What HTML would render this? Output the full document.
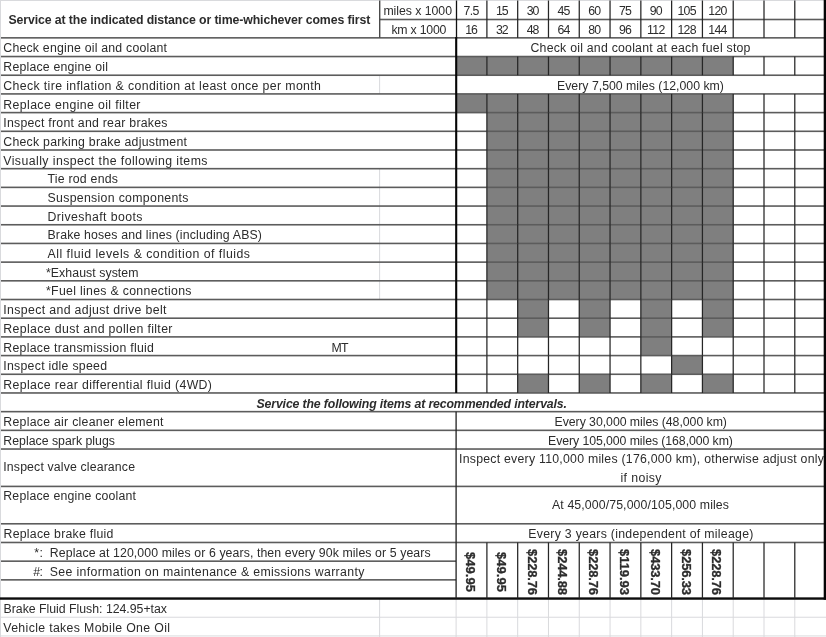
<!DOCTYPE html>
<html><head><meta charset="utf-8"><title>Maintenance schedule</title>
<style>
html,body{margin:0;padding:0;background:#fff;}
#s{position:relative;width:826px;height:637px;overflow:hidden;background:#fff;font-family:"Liberation Sans",sans-serif;color:#2c2c2c;}
#t{position:absolute;left:0;top:0;width:826px;height:637px;will-change:transform;}
#s span{position:absolute;white-space:pre;line-height:16px;}
</style></head><body><div id="s">
<svg width="826" height="637" viewBox="0 0 826 637" style="position:absolute;left:0;top:0">
<rect x="0.00" y="0.00" width="826.00" height="1.00" fill="#d9dadd"/>
<rect x="0.00" y="0.00" width="1.00" height="637.00" fill="#d9dadd"/>
<rect x="0.00" y="616.74" width="826.00" height="1.00" fill="#d9dadd"/>
<rect x="0.00" y="635.43" width="826.00" height="1.00" fill="#d9dadd"/>
<rect x="379.10" y="598.55" width="1.00" height="38.45" fill="#d9dadd"/>
<rect x="455.60" y="598.55" width="1.00" height="38.45" fill="#d9dadd"/>
<rect x="486.39" y="598.55" width="1.00" height="38.45" fill="#d9dadd"/>
<rect x="517.18" y="598.55" width="1.00" height="38.45" fill="#d9dadd"/>
<rect x="547.97" y="598.55" width="1.00" height="38.45" fill="#d9dadd"/>
<rect x="578.76" y="598.55" width="1.00" height="38.45" fill="#d9dadd"/>
<rect x="609.55" y="598.55" width="1.00" height="38.45" fill="#d9dadd"/>
<rect x="640.34" y="598.55" width="1.00" height="38.45" fill="#d9dadd"/>
<rect x="671.13" y="598.55" width="1.00" height="38.45" fill="#d9dadd"/>
<rect x="701.92" y="598.55" width="1.00" height="38.45" fill="#d9dadd"/>
<rect x="732.71" y="598.55" width="1.00" height="38.45" fill="#d9dadd"/>
<rect x="763.50" y="598.55" width="1.00" height="38.45" fill="#d9dadd"/>
<rect x="794.29" y="598.55" width="1.00" height="38.45" fill="#d9dadd"/>
<rect x="379.10" y="75.23" width="1.00" height="18.69" fill="#d9dadd"/>
<rect x="379.10" y="168.68" width="1.00" height="130.83" fill="#d9dadd"/>
<rect x="456.10" y="56.54" width="30.79" height="18.69" fill="#7f7f7f"/>
<rect x="486.89" y="56.54" width="30.79" height="18.69" fill="#7f7f7f"/>
<rect x="517.68" y="56.54" width="30.79" height="18.69" fill="#7f7f7f"/>
<rect x="548.47" y="56.54" width="30.79" height="18.69" fill="#7f7f7f"/>
<rect x="579.26" y="56.54" width="30.79" height="18.69" fill="#7f7f7f"/>
<rect x="610.05" y="56.54" width="30.79" height="18.69" fill="#7f7f7f"/>
<rect x="640.84" y="56.54" width="30.79" height="18.69" fill="#7f7f7f"/>
<rect x="671.63" y="56.54" width="30.79" height="18.69" fill="#7f7f7f"/>
<rect x="702.42" y="56.54" width="30.79" height="18.69" fill="#7f7f7f"/>
<rect x="456.10" y="93.92" width="30.79" height="18.69" fill="#7f7f7f"/>
<rect x="486.89" y="93.92" width="30.79" height="18.69" fill="#7f7f7f"/>
<rect x="517.68" y="93.92" width="30.79" height="18.69" fill="#7f7f7f"/>
<rect x="548.47" y="93.92" width="30.79" height="18.69" fill="#7f7f7f"/>
<rect x="579.26" y="93.92" width="30.79" height="18.69" fill="#7f7f7f"/>
<rect x="610.05" y="93.92" width="30.79" height="18.69" fill="#7f7f7f"/>
<rect x="640.84" y="93.92" width="30.79" height="18.69" fill="#7f7f7f"/>
<rect x="671.63" y="93.92" width="30.79" height="18.69" fill="#7f7f7f"/>
<rect x="702.42" y="93.92" width="30.79" height="18.69" fill="#7f7f7f"/>
<rect x="486.89" y="112.61" width="30.79" height="18.69" fill="#7f7f7f"/>
<rect x="517.68" y="112.61" width="30.79" height="18.69" fill="#7f7f7f"/>
<rect x="548.47" y="112.61" width="30.79" height="18.69" fill="#7f7f7f"/>
<rect x="579.26" y="112.61" width="30.79" height="18.69" fill="#7f7f7f"/>
<rect x="610.05" y="112.61" width="30.79" height="18.69" fill="#7f7f7f"/>
<rect x="640.84" y="112.61" width="30.79" height="18.69" fill="#7f7f7f"/>
<rect x="671.63" y="112.61" width="30.79" height="18.69" fill="#7f7f7f"/>
<rect x="702.42" y="112.61" width="30.79" height="18.69" fill="#7f7f7f"/>
<rect x="486.89" y="131.30" width="30.79" height="18.69" fill="#7f7f7f"/>
<rect x="517.68" y="131.30" width="30.79" height="18.69" fill="#7f7f7f"/>
<rect x="548.47" y="131.30" width="30.79" height="18.69" fill="#7f7f7f"/>
<rect x="579.26" y="131.30" width="30.79" height="18.69" fill="#7f7f7f"/>
<rect x="610.05" y="131.30" width="30.79" height="18.69" fill="#7f7f7f"/>
<rect x="640.84" y="131.30" width="30.79" height="18.69" fill="#7f7f7f"/>
<rect x="671.63" y="131.30" width="30.79" height="18.69" fill="#7f7f7f"/>
<rect x="702.42" y="131.30" width="30.79" height="18.69" fill="#7f7f7f"/>
<rect x="486.89" y="149.99" width="30.79" height="18.69" fill="#7f7f7f"/>
<rect x="517.68" y="149.99" width="30.79" height="18.69" fill="#7f7f7f"/>
<rect x="548.47" y="149.99" width="30.79" height="18.69" fill="#7f7f7f"/>
<rect x="579.26" y="149.99" width="30.79" height="18.69" fill="#7f7f7f"/>
<rect x="610.05" y="149.99" width="30.79" height="18.69" fill="#7f7f7f"/>
<rect x="640.84" y="149.99" width="30.79" height="18.69" fill="#7f7f7f"/>
<rect x="671.63" y="149.99" width="30.79" height="18.69" fill="#7f7f7f"/>
<rect x="702.42" y="149.99" width="30.79" height="18.69" fill="#7f7f7f"/>
<rect x="486.89" y="168.68" width="30.79" height="18.69" fill="#7f7f7f"/>
<rect x="517.68" y="168.68" width="30.79" height="18.69" fill="#7f7f7f"/>
<rect x="548.47" y="168.68" width="30.79" height="18.69" fill="#7f7f7f"/>
<rect x="579.26" y="168.68" width="30.79" height="18.69" fill="#7f7f7f"/>
<rect x="610.05" y="168.68" width="30.79" height="18.69" fill="#7f7f7f"/>
<rect x="640.84" y="168.68" width="30.79" height="18.69" fill="#7f7f7f"/>
<rect x="671.63" y="168.68" width="30.79" height="18.69" fill="#7f7f7f"/>
<rect x="702.42" y="168.68" width="30.79" height="18.69" fill="#7f7f7f"/>
<rect x="486.89" y="187.37" width="30.79" height="18.69" fill="#7f7f7f"/>
<rect x="517.68" y="187.37" width="30.79" height="18.69" fill="#7f7f7f"/>
<rect x="548.47" y="187.37" width="30.79" height="18.69" fill="#7f7f7f"/>
<rect x="579.26" y="187.37" width="30.79" height="18.69" fill="#7f7f7f"/>
<rect x="610.05" y="187.37" width="30.79" height="18.69" fill="#7f7f7f"/>
<rect x="640.84" y="187.37" width="30.79" height="18.69" fill="#7f7f7f"/>
<rect x="671.63" y="187.37" width="30.79" height="18.69" fill="#7f7f7f"/>
<rect x="702.42" y="187.37" width="30.79" height="18.69" fill="#7f7f7f"/>
<rect x="486.89" y="206.06" width="30.79" height="18.69" fill="#7f7f7f"/>
<rect x="517.68" y="206.06" width="30.79" height="18.69" fill="#7f7f7f"/>
<rect x="548.47" y="206.06" width="30.79" height="18.69" fill="#7f7f7f"/>
<rect x="579.26" y="206.06" width="30.79" height="18.69" fill="#7f7f7f"/>
<rect x="610.05" y="206.06" width="30.79" height="18.69" fill="#7f7f7f"/>
<rect x="640.84" y="206.06" width="30.79" height="18.69" fill="#7f7f7f"/>
<rect x="671.63" y="206.06" width="30.79" height="18.69" fill="#7f7f7f"/>
<rect x="702.42" y="206.06" width="30.79" height="18.69" fill="#7f7f7f"/>
<rect x="486.89" y="224.75" width="30.79" height="18.69" fill="#7f7f7f"/>
<rect x="517.68" y="224.75" width="30.79" height="18.69" fill="#7f7f7f"/>
<rect x="548.47" y="224.75" width="30.79" height="18.69" fill="#7f7f7f"/>
<rect x="579.26" y="224.75" width="30.79" height="18.69" fill="#7f7f7f"/>
<rect x="610.05" y="224.75" width="30.79" height="18.69" fill="#7f7f7f"/>
<rect x="640.84" y="224.75" width="30.79" height="18.69" fill="#7f7f7f"/>
<rect x="671.63" y="224.75" width="30.79" height="18.69" fill="#7f7f7f"/>
<rect x="702.42" y="224.75" width="30.79" height="18.69" fill="#7f7f7f"/>
<rect x="486.89" y="243.44" width="30.79" height="18.69" fill="#7f7f7f"/>
<rect x="517.68" y="243.44" width="30.79" height="18.69" fill="#7f7f7f"/>
<rect x="548.47" y="243.44" width="30.79" height="18.69" fill="#7f7f7f"/>
<rect x="579.26" y="243.44" width="30.79" height="18.69" fill="#7f7f7f"/>
<rect x="610.05" y="243.44" width="30.79" height="18.69" fill="#7f7f7f"/>
<rect x="640.84" y="243.44" width="30.79" height="18.69" fill="#7f7f7f"/>
<rect x="671.63" y="243.44" width="30.79" height="18.69" fill="#7f7f7f"/>
<rect x="702.42" y="243.44" width="30.79" height="18.69" fill="#7f7f7f"/>
<rect x="486.89" y="262.13" width="30.79" height="18.69" fill="#7f7f7f"/>
<rect x="517.68" y="262.13" width="30.79" height="18.69" fill="#7f7f7f"/>
<rect x="548.47" y="262.13" width="30.79" height="18.69" fill="#7f7f7f"/>
<rect x="579.26" y="262.13" width="30.79" height="18.69" fill="#7f7f7f"/>
<rect x="610.05" y="262.13" width="30.79" height="18.69" fill="#7f7f7f"/>
<rect x="640.84" y="262.13" width="30.79" height="18.69" fill="#7f7f7f"/>
<rect x="671.63" y="262.13" width="30.79" height="18.69" fill="#7f7f7f"/>
<rect x="702.42" y="262.13" width="30.79" height="18.69" fill="#7f7f7f"/>
<rect x="486.89" y="280.82" width="30.79" height="18.69" fill="#7f7f7f"/>
<rect x="517.68" y="280.82" width="30.79" height="18.69" fill="#7f7f7f"/>
<rect x="548.47" y="280.82" width="30.79" height="18.69" fill="#7f7f7f"/>
<rect x="579.26" y="280.82" width="30.79" height="18.69" fill="#7f7f7f"/>
<rect x="610.05" y="280.82" width="30.79" height="18.69" fill="#7f7f7f"/>
<rect x="640.84" y="280.82" width="30.79" height="18.69" fill="#7f7f7f"/>
<rect x="671.63" y="280.82" width="30.79" height="18.69" fill="#7f7f7f"/>
<rect x="702.42" y="280.82" width="30.79" height="18.69" fill="#7f7f7f"/>
<rect x="517.68" y="299.51" width="30.79" height="18.69" fill="#7f7f7f"/>
<rect x="579.26" y="299.51" width="30.79" height="18.69" fill="#7f7f7f"/>
<rect x="640.84" y="299.51" width="30.79" height="18.69" fill="#7f7f7f"/>
<rect x="702.42" y="299.51" width="30.79" height="18.69" fill="#7f7f7f"/>
<rect x="517.68" y="318.20" width="30.79" height="18.69" fill="#7f7f7f"/>
<rect x="579.26" y="318.20" width="30.79" height="18.69" fill="#7f7f7f"/>
<rect x="640.84" y="318.20" width="30.79" height="18.69" fill="#7f7f7f"/>
<rect x="702.42" y="318.20" width="30.79" height="18.69" fill="#7f7f7f"/>
<rect x="640.84" y="336.89" width="30.79" height="18.69" fill="#7f7f7f"/>
<rect x="671.63" y="355.58" width="30.79" height="18.69" fill="#7f7f7f"/>
<rect x="517.68" y="374.27" width="30.79" height="18.69" fill="#7f7f7f"/>
<rect x="579.26" y="374.27" width="30.79" height="18.69" fill="#7f7f7f"/>
<rect x="640.84" y="374.27" width="30.79" height="18.69" fill="#7f7f7f"/>
<rect x="702.42" y="374.27" width="30.79" height="18.69" fill="#7f7f7f"/>
<rect x="380.00" y="18.70" width="445.00" height="1.60" fill="#5c5c5c"/>
<rect x="1.00" y="37.05" width="824.00" height="1.60" fill="#5c5c5c"/>
<rect x="1.00" y="55.74" width="824.00" height="1.60" fill="#5c5c5c"/>
<rect x="1.00" y="74.43" width="824.00" height="1.60" fill="#5c5c5c"/>
<rect x="1.00" y="93.12" width="824.00" height="1.60" fill="#5c5c5c"/>
<rect x="1.00" y="111.81" width="824.00" height="1.60" fill="#5c5c5c"/>
<rect x="1.00" y="130.50" width="824.00" height="1.60" fill="#5c5c5c"/>
<rect x="1.00" y="149.19" width="824.00" height="1.60" fill="#5c5c5c"/>
<rect x="1.00" y="167.88" width="824.00" height="1.60" fill="#5c5c5c"/>
<rect x="1.00" y="186.57" width="824.00" height="1.60" fill="#5c5c5c"/>
<rect x="1.00" y="205.26" width="824.00" height="1.60" fill="#5c5c5c"/>
<rect x="1.00" y="223.95" width="824.00" height="1.60" fill="#5c5c5c"/>
<rect x="1.00" y="242.64" width="824.00" height="1.60" fill="#5c5c5c"/>
<rect x="1.00" y="261.33" width="824.00" height="1.60" fill="#5c5c5c"/>
<rect x="1.00" y="280.02" width="824.00" height="1.60" fill="#5c5c5c"/>
<rect x="1.00" y="298.71" width="824.00" height="1.60" fill="#5c5c5c"/>
<rect x="1.00" y="317.40" width="824.00" height="1.60" fill="#5c5c5c"/>
<rect x="1.00" y="336.09" width="824.00" height="1.60" fill="#5c5c5c"/>
<rect x="1.00" y="354.78" width="824.00" height="1.60" fill="#5c5c5c"/>
<rect x="1.00" y="373.47" width="824.00" height="1.60" fill="#5c5c5c"/>
<rect x="1.00" y="392.16" width="824.00" height="1.60" fill="#5c5c5c"/>
<rect x="1.00" y="410.85" width="824.00" height="1.60" fill="#5c5c5c"/>
<rect x="1.00" y="429.54" width="824.00" height="1.60" fill="#5c5c5c"/>
<rect x="1.00" y="448.23" width="824.00" height="1.60" fill="#5c5c5c"/>
<rect x="1.00" y="485.61" width="824.00" height="1.60" fill="#5c5c5c"/>
<rect x="1.00" y="522.99" width="824.00" height="1.60" fill="#5c5c5c"/>
<rect x="1.00" y="541.68" width="455.00" height="1.60" fill="#5c5c5c"/>
<rect x="456.00" y="541.68" width="369.00" height="1.60" fill="#5c5c5c"/>
<rect x="1.00" y="560.37" width="455.00" height="1.60" fill="#5c5c5c"/>
<rect x="1.00" y="579.06" width="455.00" height="1.60" fill="#5c5c5c"/>
<rect x="0.00" y="597.35" width="826.00" height="2.40" fill="#0c0c0c"/>
<rect x="379.00" y="0.50" width="1.40" height="37.35" fill="#4a4a4a"/>
<rect x="486.27" y="0.50" width="1.25" height="37.35" fill="#262626"/>
<rect x="517.06" y="0.50" width="1.25" height="37.35" fill="#262626"/>
<rect x="547.85" y="0.50" width="1.25" height="37.35" fill="#262626"/>
<rect x="578.63" y="0.50" width="1.25" height="37.35" fill="#262626"/>
<rect x="609.42" y="0.50" width="1.25" height="37.35" fill="#262626"/>
<rect x="640.22" y="0.50" width="1.25" height="37.35" fill="#262626"/>
<rect x="671.00" y="0.50" width="1.25" height="37.35" fill="#262626"/>
<rect x="701.80" y="0.50" width="1.25" height="37.35" fill="#262626"/>
<rect x="732.59" y="0.50" width="1.25" height="37.35" fill="#262626"/>
<rect x="763.38" y="0.50" width="1.25" height="37.35" fill="#262626"/>
<rect x="794.16" y="0.50" width="1.25" height="37.35" fill="#262626"/>
<rect x="486.27" y="56.54" width="1.25" height="18.69" fill="#262626"/>
<rect x="517.06" y="56.54" width="1.25" height="18.69" fill="#262626"/>
<rect x="547.85" y="56.54" width="1.25" height="18.69" fill="#262626"/>
<rect x="578.63" y="56.54" width="1.25" height="18.69" fill="#262626"/>
<rect x="609.42" y="56.54" width="1.25" height="18.69" fill="#262626"/>
<rect x="640.22" y="56.54" width="1.25" height="18.69" fill="#262626"/>
<rect x="671.00" y="56.54" width="1.25" height="18.69" fill="#262626"/>
<rect x="701.80" y="56.54" width="1.25" height="18.69" fill="#262626"/>
<rect x="732.59" y="56.54" width="1.25" height="18.69" fill="#262626"/>
<rect x="763.38" y="56.54" width="1.25" height="18.69" fill="#262626"/>
<rect x="794.16" y="56.54" width="1.25" height="18.69" fill="#262626"/>
<rect x="486.27" y="93.92" width="1.25" height="18.69" fill="#262626"/>
<rect x="517.06" y="93.92" width="1.25" height="18.69" fill="#262626"/>
<rect x="547.85" y="93.92" width="1.25" height="18.69" fill="#262626"/>
<rect x="578.63" y="93.92" width="1.25" height="18.69" fill="#262626"/>
<rect x="609.42" y="93.92" width="1.25" height="18.69" fill="#262626"/>
<rect x="640.22" y="93.92" width="1.25" height="18.69" fill="#262626"/>
<rect x="671.00" y="93.92" width="1.25" height="18.69" fill="#262626"/>
<rect x="701.80" y="93.92" width="1.25" height="18.69" fill="#262626"/>
<rect x="732.59" y="93.92" width="1.25" height="18.69" fill="#262626"/>
<rect x="763.38" y="93.92" width="1.25" height="18.69" fill="#262626"/>
<rect x="794.16" y="93.92" width="1.25" height="18.69" fill="#262626"/>
<rect x="486.27" y="112.61" width="1.25" height="18.69" fill="#262626"/>
<rect x="517.06" y="112.61" width="1.25" height="18.69" fill="#262626"/>
<rect x="547.85" y="112.61" width="1.25" height="18.69" fill="#262626"/>
<rect x="578.63" y="112.61" width="1.25" height="18.69" fill="#262626"/>
<rect x="609.42" y="112.61" width="1.25" height="18.69" fill="#262626"/>
<rect x="640.22" y="112.61" width="1.25" height="18.69" fill="#262626"/>
<rect x="671.00" y="112.61" width="1.25" height="18.69" fill="#262626"/>
<rect x="701.80" y="112.61" width="1.25" height="18.69" fill="#262626"/>
<rect x="732.59" y="112.61" width="1.25" height="18.69" fill="#262626"/>
<rect x="763.38" y="112.61" width="1.25" height="18.69" fill="#262626"/>
<rect x="794.16" y="112.61" width="1.25" height="18.69" fill="#262626"/>
<rect x="486.27" y="131.30" width="1.25" height="18.69" fill="#262626"/>
<rect x="517.06" y="131.30" width="1.25" height="18.69" fill="#262626"/>
<rect x="547.85" y="131.30" width="1.25" height="18.69" fill="#262626"/>
<rect x="578.63" y="131.30" width="1.25" height="18.69" fill="#262626"/>
<rect x="609.42" y="131.30" width="1.25" height="18.69" fill="#262626"/>
<rect x="640.22" y="131.30" width="1.25" height="18.69" fill="#262626"/>
<rect x="671.00" y="131.30" width="1.25" height="18.69" fill="#262626"/>
<rect x="701.80" y="131.30" width="1.25" height="18.69" fill="#262626"/>
<rect x="732.59" y="131.30" width="1.25" height="18.69" fill="#262626"/>
<rect x="763.38" y="131.30" width="1.25" height="18.69" fill="#262626"/>
<rect x="794.16" y="131.30" width="1.25" height="18.69" fill="#262626"/>
<rect x="486.27" y="149.99" width="1.25" height="18.69" fill="#262626"/>
<rect x="517.06" y="149.99" width="1.25" height="18.69" fill="#262626"/>
<rect x="547.85" y="149.99" width="1.25" height="18.69" fill="#262626"/>
<rect x="578.63" y="149.99" width="1.25" height="18.69" fill="#262626"/>
<rect x="609.42" y="149.99" width="1.25" height="18.69" fill="#262626"/>
<rect x="640.22" y="149.99" width="1.25" height="18.69" fill="#262626"/>
<rect x="671.00" y="149.99" width="1.25" height="18.69" fill="#262626"/>
<rect x="701.80" y="149.99" width="1.25" height="18.69" fill="#262626"/>
<rect x="732.59" y="149.99" width="1.25" height="18.69" fill="#262626"/>
<rect x="763.38" y="149.99" width="1.25" height="18.69" fill="#262626"/>
<rect x="794.16" y="149.99" width="1.25" height="18.69" fill="#262626"/>
<rect x="486.27" y="168.68" width="1.25" height="18.69" fill="#262626"/>
<rect x="517.06" y="168.68" width="1.25" height="18.69" fill="#262626"/>
<rect x="547.85" y="168.68" width="1.25" height="18.69" fill="#262626"/>
<rect x="578.63" y="168.68" width="1.25" height="18.69" fill="#262626"/>
<rect x="609.42" y="168.68" width="1.25" height="18.69" fill="#262626"/>
<rect x="640.22" y="168.68" width="1.25" height="18.69" fill="#262626"/>
<rect x="671.00" y="168.68" width="1.25" height="18.69" fill="#262626"/>
<rect x="701.80" y="168.68" width="1.25" height="18.69" fill="#262626"/>
<rect x="732.59" y="168.68" width="1.25" height="18.69" fill="#262626"/>
<rect x="763.38" y="168.68" width="1.25" height="18.69" fill="#262626"/>
<rect x="794.16" y="168.68" width="1.25" height="18.69" fill="#262626"/>
<rect x="486.27" y="187.37" width="1.25" height="18.69" fill="#262626"/>
<rect x="517.06" y="187.37" width="1.25" height="18.69" fill="#262626"/>
<rect x="547.85" y="187.37" width="1.25" height="18.69" fill="#262626"/>
<rect x="578.63" y="187.37" width="1.25" height="18.69" fill="#262626"/>
<rect x="609.42" y="187.37" width="1.25" height="18.69" fill="#262626"/>
<rect x="640.22" y="187.37" width="1.25" height="18.69" fill="#262626"/>
<rect x="671.00" y="187.37" width="1.25" height="18.69" fill="#262626"/>
<rect x="701.80" y="187.37" width="1.25" height="18.69" fill="#262626"/>
<rect x="732.59" y="187.37" width="1.25" height="18.69" fill="#262626"/>
<rect x="763.38" y="187.37" width="1.25" height="18.69" fill="#262626"/>
<rect x="794.16" y="187.37" width="1.25" height="18.69" fill="#262626"/>
<rect x="486.27" y="206.06" width="1.25" height="18.69" fill="#262626"/>
<rect x="517.06" y="206.06" width="1.25" height="18.69" fill="#262626"/>
<rect x="547.85" y="206.06" width="1.25" height="18.69" fill="#262626"/>
<rect x="578.63" y="206.06" width="1.25" height="18.69" fill="#262626"/>
<rect x="609.42" y="206.06" width="1.25" height="18.69" fill="#262626"/>
<rect x="640.22" y="206.06" width="1.25" height="18.69" fill="#262626"/>
<rect x="671.00" y="206.06" width="1.25" height="18.69" fill="#262626"/>
<rect x="701.80" y="206.06" width="1.25" height="18.69" fill="#262626"/>
<rect x="732.59" y="206.06" width="1.25" height="18.69" fill="#262626"/>
<rect x="763.38" y="206.06" width="1.25" height="18.69" fill="#262626"/>
<rect x="794.16" y="206.06" width="1.25" height="18.69" fill="#262626"/>
<rect x="486.27" y="224.75" width="1.25" height="18.69" fill="#262626"/>
<rect x="517.06" y="224.75" width="1.25" height="18.69" fill="#262626"/>
<rect x="547.85" y="224.75" width="1.25" height="18.69" fill="#262626"/>
<rect x="578.63" y="224.75" width="1.25" height="18.69" fill="#262626"/>
<rect x="609.42" y="224.75" width="1.25" height="18.69" fill="#262626"/>
<rect x="640.22" y="224.75" width="1.25" height="18.69" fill="#262626"/>
<rect x="671.00" y="224.75" width="1.25" height="18.69" fill="#262626"/>
<rect x="701.80" y="224.75" width="1.25" height="18.69" fill="#262626"/>
<rect x="732.59" y="224.75" width="1.25" height="18.69" fill="#262626"/>
<rect x="763.38" y="224.75" width="1.25" height="18.69" fill="#262626"/>
<rect x="794.16" y="224.75" width="1.25" height="18.69" fill="#262626"/>
<rect x="486.27" y="243.44" width="1.25" height="18.69" fill="#262626"/>
<rect x="517.06" y="243.44" width="1.25" height="18.69" fill="#262626"/>
<rect x="547.85" y="243.44" width="1.25" height="18.69" fill="#262626"/>
<rect x="578.63" y="243.44" width="1.25" height="18.69" fill="#262626"/>
<rect x="609.42" y="243.44" width="1.25" height="18.69" fill="#262626"/>
<rect x="640.22" y="243.44" width="1.25" height="18.69" fill="#262626"/>
<rect x="671.00" y="243.44" width="1.25" height="18.69" fill="#262626"/>
<rect x="701.80" y="243.44" width="1.25" height="18.69" fill="#262626"/>
<rect x="732.59" y="243.44" width="1.25" height="18.69" fill="#262626"/>
<rect x="763.38" y="243.44" width="1.25" height="18.69" fill="#262626"/>
<rect x="794.16" y="243.44" width="1.25" height="18.69" fill="#262626"/>
<rect x="486.27" y="262.13" width="1.25" height="18.69" fill="#262626"/>
<rect x="517.06" y="262.13" width="1.25" height="18.69" fill="#262626"/>
<rect x="547.85" y="262.13" width="1.25" height="18.69" fill="#262626"/>
<rect x="578.63" y="262.13" width="1.25" height="18.69" fill="#262626"/>
<rect x="609.42" y="262.13" width="1.25" height="18.69" fill="#262626"/>
<rect x="640.22" y="262.13" width="1.25" height="18.69" fill="#262626"/>
<rect x="671.00" y="262.13" width="1.25" height="18.69" fill="#262626"/>
<rect x="701.80" y="262.13" width="1.25" height="18.69" fill="#262626"/>
<rect x="732.59" y="262.13" width="1.25" height="18.69" fill="#262626"/>
<rect x="763.38" y="262.13" width="1.25" height="18.69" fill="#262626"/>
<rect x="794.16" y="262.13" width="1.25" height="18.69" fill="#262626"/>
<rect x="486.27" y="280.82" width="1.25" height="18.69" fill="#262626"/>
<rect x="517.06" y="280.82" width="1.25" height="18.69" fill="#262626"/>
<rect x="547.85" y="280.82" width="1.25" height="18.69" fill="#262626"/>
<rect x="578.63" y="280.82" width="1.25" height="18.69" fill="#262626"/>
<rect x="609.42" y="280.82" width="1.25" height="18.69" fill="#262626"/>
<rect x="640.22" y="280.82" width="1.25" height="18.69" fill="#262626"/>
<rect x="671.00" y="280.82" width="1.25" height="18.69" fill="#262626"/>
<rect x="701.80" y="280.82" width="1.25" height="18.69" fill="#262626"/>
<rect x="732.59" y="280.82" width="1.25" height="18.69" fill="#262626"/>
<rect x="763.38" y="280.82" width="1.25" height="18.69" fill="#262626"/>
<rect x="794.16" y="280.82" width="1.25" height="18.69" fill="#262626"/>
<rect x="486.27" y="299.51" width="1.25" height="18.69" fill="#262626"/>
<rect x="517.06" y="299.51" width="1.25" height="18.69" fill="#262626"/>
<rect x="547.85" y="299.51" width="1.25" height="18.69" fill="#262626"/>
<rect x="578.63" y="299.51" width="1.25" height="18.69" fill="#262626"/>
<rect x="609.42" y="299.51" width="1.25" height="18.69" fill="#262626"/>
<rect x="640.22" y="299.51" width="1.25" height="18.69" fill="#262626"/>
<rect x="671.00" y="299.51" width="1.25" height="18.69" fill="#262626"/>
<rect x="701.80" y="299.51" width="1.25" height="18.69" fill="#262626"/>
<rect x="732.59" y="299.51" width="1.25" height="18.69" fill="#262626"/>
<rect x="763.38" y="299.51" width="1.25" height="18.69" fill="#262626"/>
<rect x="794.16" y="299.51" width="1.25" height="18.69" fill="#262626"/>
<rect x="486.27" y="318.20" width="1.25" height="18.69" fill="#262626"/>
<rect x="517.06" y="318.20" width="1.25" height="18.69" fill="#262626"/>
<rect x="547.85" y="318.20" width="1.25" height="18.69" fill="#262626"/>
<rect x="578.63" y="318.20" width="1.25" height="18.69" fill="#262626"/>
<rect x="609.42" y="318.20" width="1.25" height="18.69" fill="#262626"/>
<rect x="640.22" y="318.20" width="1.25" height="18.69" fill="#262626"/>
<rect x="671.00" y="318.20" width="1.25" height="18.69" fill="#262626"/>
<rect x="701.80" y="318.20" width="1.25" height="18.69" fill="#262626"/>
<rect x="732.59" y="318.20" width="1.25" height="18.69" fill="#262626"/>
<rect x="763.38" y="318.20" width="1.25" height="18.69" fill="#262626"/>
<rect x="794.16" y="318.20" width="1.25" height="18.69" fill="#262626"/>
<rect x="486.27" y="336.89" width="1.25" height="18.69" fill="#262626"/>
<rect x="517.06" y="336.89" width="1.25" height="18.69" fill="#262626"/>
<rect x="547.85" y="336.89" width="1.25" height="18.69" fill="#262626"/>
<rect x="578.63" y="336.89" width="1.25" height="18.69" fill="#262626"/>
<rect x="609.42" y="336.89" width="1.25" height="18.69" fill="#262626"/>
<rect x="640.22" y="336.89" width="1.25" height="18.69" fill="#262626"/>
<rect x="671.00" y="336.89" width="1.25" height="18.69" fill="#262626"/>
<rect x="701.80" y="336.89" width="1.25" height="18.69" fill="#262626"/>
<rect x="732.59" y="336.89" width="1.25" height="18.69" fill="#262626"/>
<rect x="763.38" y="336.89" width="1.25" height="18.69" fill="#262626"/>
<rect x="794.16" y="336.89" width="1.25" height="18.69" fill="#262626"/>
<rect x="486.27" y="355.58" width="1.25" height="18.69" fill="#262626"/>
<rect x="517.06" y="355.58" width="1.25" height="18.69" fill="#262626"/>
<rect x="547.85" y="355.58" width="1.25" height="18.69" fill="#262626"/>
<rect x="578.63" y="355.58" width="1.25" height="18.69" fill="#262626"/>
<rect x="609.42" y="355.58" width="1.25" height="18.69" fill="#262626"/>
<rect x="640.22" y="355.58" width="1.25" height="18.69" fill="#262626"/>
<rect x="671.00" y="355.58" width="1.25" height="18.69" fill="#262626"/>
<rect x="701.80" y="355.58" width="1.25" height="18.69" fill="#262626"/>
<rect x="732.59" y="355.58" width="1.25" height="18.69" fill="#262626"/>
<rect x="763.38" y="355.58" width="1.25" height="18.69" fill="#262626"/>
<rect x="794.16" y="355.58" width="1.25" height="18.69" fill="#262626"/>
<rect x="486.27" y="374.27" width="1.25" height="18.69" fill="#262626"/>
<rect x="517.06" y="374.27" width="1.25" height="18.69" fill="#262626"/>
<rect x="547.85" y="374.27" width="1.25" height="18.69" fill="#262626"/>
<rect x="578.63" y="374.27" width="1.25" height="18.69" fill="#262626"/>
<rect x="609.42" y="374.27" width="1.25" height="18.69" fill="#262626"/>
<rect x="640.22" y="374.27" width="1.25" height="18.69" fill="#262626"/>
<rect x="671.00" y="374.27" width="1.25" height="18.69" fill="#262626"/>
<rect x="701.80" y="374.27" width="1.25" height="18.69" fill="#262626"/>
<rect x="732.59" y="374.27" width="1.25" height="18.69" fill="#262626"/>
<rect x="763.38" y="374.27" width="1.25" height="18.69" fill="#262626"/>
<rect x="794.16" y="374.27" width="1.25" height="18.69" fill="#262626"/>
<rect x="486.27" y="542.48" width="1.25" height="56.07" fill="#262626"/>
<rect x="517.06" y="542.48" width="1.25" height="56.07" fill="#262626"/>
<rect x="547.85" y="542.48" width="1.25" height="56.07" fill="#262626"/>
<rect x="578.63" y="542.48" width="1.25" height="56.07" fill="#262626"/>
<rect x="609.42" y="542.48" width="1.25" height="56.07" fill="#262626"/>
<rect x="640.22" y="542.48" width="1.25" height="56.07" fill="#262626"/>
<rect x="671.00" y="542.48" width="1.25" height="56.07" fill="#262626"/>
<rect x="701.80" y="542.48" width="1.25" height="56.07" fill="#262626"/>
<rect x="732.59" y="542.48" width="1.25" height="56.07" fill="#262626"/>
<rect x="763.38" y="542.48" width="1.25" height="56.07" fill="#262626"/>
<rect x="794.16" y="542.48" width="1.25" height="56.07" fill="#262626"/>
<rect x="455.15" y="37.05" width="2.10" height="355.91" fill="#050505"/>
<rect x="455.85" y="0.50" width="1.30" height="37.35" fill="#111"/>
<rect x="455.45" y="411.65" width="1.30" height="186.90" fill="#222"/>
<rect x="823.70" y="0.00" width="2.30" height="599.75" fill="#050505"/>
</svg>
<div id="t">
<span style="left:8.50px;top:11.53px;font-size:12.3px;letter-spacing:-0.106px;font-weight:bold;">Service at the indicated distance or time-whichever comes first</span>
<span style="left:3.30px;top:40.47px;font-size:12.3px;letter-spacing:0.213px;">Check engine oil and coolant</span>
<span style="left:3.30px;top:59.16px;font-size:12.3px;letter-spacing:0.206px;">Replace engine oil</span>
<span style="left:3.30px;top:77.85px;font-size:12.3px;letter-spacing:0.369px;">Check tire inflation &amp; condition at least once per month</span>
<span style="left:3.30px;top:96.54px;font-size:12.3px;letter-spacing:0.389px;">Replace engine oil filter</span>
<span style="left:3.30px;top:115.23px;font-size:12.3px;letter-spacing:0.248px;">Inspect front and rear brakes</span>
<span style="left:3.30px;top:133.92px;font-size:12.3px;letter-spacing:0.252px;">Check parking brake adjustment</span>
<span style="left:3.30px;top:152.61px;font-size:12.3px;letter-spacing:0.430px;">Visually inspect the following items</span>
<span style="left:47.40px;top:171.30px;font-size:12.3px;letter-spacing:0.244px;">Tie rod ends</span>
<span style="left:47.50px;top:189.99px;font-size:12.3px;letter-spacing:0.315px;">Suspension components</span>
<span style="left:47.50px;top:208.68px;font-size:12.3px;letter-spacing:0.408px;">Driveshaft boots</span>
<span style="left:47.50px;top:227.37px;font-size:12.3px;letter-spacing:0.166px;">Brake hoses and lines (including ABS)</span>
<span style="left:47.50px;top:246.06px;font-size:12.3px;letter-spacing:0.484px;">All fluid levels &amp; condition of fluids</span>
<span style="left:46.00px;top:264.75px;font-size:12.3px;letter-spacing:0.064px;">*Exhaust system</span>
<span style="left:46.00px;top:283.44px;font-size:12.3px;letter-spacing:0.308px;">*Fuel lines &amp; connections</span>
<span style="left:3.30px;top:302.13px;font-size:12.3px;letter-spacing:0.359px;">Inspect and adjust drive belt</span>
<span style="left:3.30px;top:320.82px;font-size:12.3px;letter-spacing:0.364px;">Replace dust and pollen filter</span>
<span style="left:3.30px;top:339.51px;font-size:12.3px;letter-spacing:0.285px;">Replace transmission fluid</span>
<span style="left:331.50px;top:339.51px;font-size:12.3px;letter-spacing:-0.761px;">MT</span>
<span style="left:3.30px;top:358.20px;font-size:12.3px;letter-spacing:0.268px;">Inspect idle speed</span>
<span style="left:3.30px;top:376.89px;font-size:12.3px;letter-spacing:0.373px;">Replace rear differential fluid (4WD)</span>
<span style="left:3.30px;top:414.27px;font-size:12.3px;letter-spacing:0.271px;">Replace air cleaner element</span>
<span style="left:3.30px;top:432.96px;font-size:12.3px;letter-spacing:0.014px;">Replace spark plugs</span>
<span style="left:3.50px;top:526.41px;font-size:12.3px;letter-spacing:0.256px;">Replace brake fluid</span>
<span style="left:34.30px;top:545.10px;font-size:12.3px;letter-spacing:0.496px;">*:</span>
<span style="left:49.80px;top:545.10px;font-size:12.3px;letter-spacing:0.093px;">Replace at 120,000 miles or 6 years, then every 90k miles or 5 years</span>
<span style="left:33.30px;top:563.79px;font-size:12.3px;letter-spacing:-0.558px;">#:</span>
<span style="left:49.80px;top:563.79px;font-size:12.3px;letter-spacing:0.344px;">See information on maintenance &amp; emissions warranty</span>
<span style="left:3.60px;top:601.17px;font-size:12.3px;letter-spacing:-0.012px;">Brake Fluid Flush: 124.95+tax</span>
<span style="left:3.30px;top:619.86px;font-size:12.3px;letter-spacing:0.350px;">Vehicle takes Mobile One Oil</span>
<span style="left:256.50px;top:395.58px;font-size:12.3px;letter-spacing:-0.141px;font-weight:bold;font-style:italic;">Service the following items at recommended intervals.</span>
<span style="left:3.30px;top:459.23px;font-size:12.3px;letter-spacing:0.144px;">Inspect valve clearance</span>
<span style="left:3.30px;top:487.93px;font-size:12.3px;letter-spacing:0.197px;">Replace engine coolant</span>
<span style="left:530.50px;top:40.47px;font-size:12.3px;letter-spacing:0.229px;">Check oil and coolant at each fuel stop</span>
<span style="left:557.00px;top:77.85px;font-size:12.3px;letter-spacing:0.007px;">Every 7,500 miles (12,000 km)</span>
<span style="left:554.50px;top:414.27px;font-size:12.3px;letter-spacing:-0.039px;">Every 30,000 miles (48,000 km)</span>
<span style="left:548.00px;top:432.96px;font-size:12.3px;letter-spacing:-0.075px;">Every 105,000 miles (168,000 km)</span>
<span style="left:459.00px;top:450.93px;font-size:12.3px;letter-spacing:0.245px;">Inspect every 110,000 miles (176,000 km), otherwise adjust only</span>
<span style="left:620.50px;top:470.23px;font-size:12.3px;letter-spacing:0.389px;">if noisy</span>
<span style="left:552.00px;top:497.43px;font-size:12.3px;letter-spacing:0.114px;">At 45,000/75,000/105,000 miles</span>
<span style="left:528.30px;top:526.41px;font-size:12.3px;letter-spacing:0.282px;">Every 3 years (independent of mileage)</span>
<span style="left:383.40px;top:2.93px;font-size:12.3px;letter-spacing:-0.041px;">miles x 1000</span>
<span style="left:391.40px;top:21.63px;font-size:12.3px;letter-spacing:-0.217px;">km x 1000</span>
<span style="left:463.54px;top:2.93px;font-size:12.3px;letter-spacing:-0.598px;">7.5</span>
<span style="left:465.13px;top:21.63px;font-size:12.3px;letter-spacing:-0.954px;">16</span>
<span style="left:495.92px;top:2.93px;font-size:12.3px;letter-spacing:-0.954px;">15</span>
<span style="left:495.92px;top:21.63px;font-size:12.3px;letter-spacing:-0.954px;">32</span>
<span style="left:526.71px;top:2.93px;font-size:12.3px;letter-spacing:-0.954px;">30</span>
<span style="left:526.71px;top:21.63px;font-size:12.3px;letter-spacing:-0.954px;">48</span>
<span style="left:557.50px;top:2.93px;font-size:12.3px;letter-spacing:-0.954px;">45</span>
<span style="left:557.50px;top:21.63px;font-size:12.3px;letter-spacing:-0.954px;">64</span>
<span style="left:588.29px;top:2.93px;font-size:12.3px;letter-spacing:-0.954px;">60</span>
<span style="left:588.29px;top:21.63px;font-size:12.3px;letter-spacing:-0.954px;">80</span>
<span style="left:619.08px;top:2.93px;font-size:12.3px;letter-spacing:-0.954px;">75</span>
<span style="left:619.08px;top:21.63px;font-size:12.3px;letter-spacing:-0.954px;">96</span>
<span style="left:649.87px;top:2.93px;font-size:12.3px;letter-spacing:-0.954px;">90</span>
<span style="left:647.12px;top:21.63px;font-size:12.3px;letter-spacing:-0.685px;">112</span>
<span style="left:677.48px;top:2.93px;font-size:12.3px;letter-spacing:-0.715px;">105</span>
<span style="left:677.48px;top:21.63px;font-size:12.3px;letter-spacing:-0.715px;">128</span>
<span style="left:708.27px;top:2.93px;font-size:12.3px;letter-spacing:-0.715px;">120</span>
<span style="left:708.27px;top:21.63px;font-size:12.3px;letter-spacing:-0.715px;">144</span>
<span style="left:470.00px;top:572.12px;font-size:13.0px;font-weight:bold;letter-spacing:0.007px;line-height:14px;-webkit-text-stroke:0.3px #2c2c2c;transform:translate(-50%,-50%) rotate(90deg);transform-origin:50% 50%;">$49.95</span>
<span style="left:500.79px;top:572.12px;font-size:13.0px;font-weight:bold;letter-spacing:0.007px;line-height:14px;-webkit-text-stroke:0.3px #2c2c2c;transform:translate(-50%,-50%) rotate(90deg);transform-origin:50% 50%;">$49.95</span>
<span style="left:531.58px;top:572.12px;font-size:13.0px;font-weight:bold;letter-spacing:-0.166px;line-height:14px;-webkit-text-stroke:0.3px #2c2c2c;transform:translate(-50%,-50%) rotate(90deg);transform-origin:50% 50%;">$228.76</span>
<span style="left:562.37px;top:572.12px;font-size:13.0px;font-weight:bold;letter-spacing:-0.166px;line-height:14px;-webkit-text-stroke:0.3px #2c2c2c;transform:translate(-50%,-50%) rotate(90deg);transform-origin:50% 50%;">$244.88</span>
<span style="left:593.15px;top:572.12px;font-size:13.0px;font-weight:bold;letter-spacing:-0.166px;line-height:14px;-webkit-text-stroke:0.3px #2c2c2c;transform:translate(-50%,-50%) rotate(90deg);transform-origin:50% 50%;">$228.76</span>
<span style="left:623.94px;top:572.12px;font-size:13.0px;font-weight:bold;letter-spacing:-0.047px;line-height:14px;-webkit-text-stroke:0.3px #2c2c2c;transform:translate(-50%,-50%) rotate(90deg);transform-origin:50% 50%;">$119.93</span>
<span style="left:654.74px;top:572.12px;font-size:13.0px;font-weight:bold;letter-spacing:-0.166px;line-height:14px;-webkit-text-stroke:0.3px #2c2c2c;transform:translate(-50%,-50%) rotate(90deg);transform-origin:50% 50%;">$433.70</span>
<span style="left:685.53px;top:572.12px;font-size:13.0px;font-weight:bold;letter-spacing:-0.166px;line-height:14px;-webkit-text-stroke:0.3px #2c2c2c;transform:translate(-50%,-50%) rotate(90deg);transform-origin:50% 50%;">$256.33</span>
<span style="left:716.32px;top:572.12px;font-size:13.0px;font-weight:bold;letter-spacing:-0.166px;line-height:14px;-webkit-text-stroke:0.3px #2c2c2c;transform:translate(-50%,-50%) rotate(90deg);transform-origin:50% 50%;">$228.76</span>
</div>
</div></body></html>
